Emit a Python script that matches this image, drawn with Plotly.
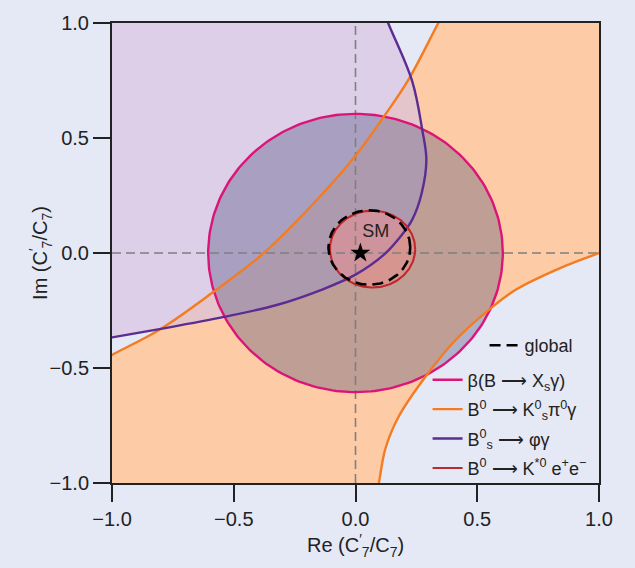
import numpy as np
import plotly.graph_objects as go

# ---------------- data ----------------
# B0 -> Ks pi0 gamma : two boundary curves of the allowed band
orange_upper_x = [-1.0, -0.80, -0.59, -0.377, -0.165, 0.0, 0.117, 0.217, 0.34]
orange_upper_y = [-0.443, -0.330, -0.174, 0.0, 0.224, 0.423, 0.594, 0.753, 1.0]
orange_lower_x = [0.096, 0.123, 0.178, 0.288, 0.412, 0.549, 0.658, 0.864, 1.0]
orange_lower_y = [-1.0, -0.85, -0.71, -0.537, -0.377, -0.246, -0.160, -0.055, 0.0]

# Bs0 -> phi gamma : boundary curve (allowed region is to the upper left)
purple_x = [-1.0, -0.80, -0.54, -0.32, -0.14, 0.0, 0.117, 0.185, 0.233, 0.272, 0.291, 0.274, 0.233, 0.134]
purple_y = [-0.367, -0.330, -0.278, -0.225, -0.160, -0.094, -0.007, 0.072, 0.145, 0.261, 0.406, 0.536, 0.746, 1.0]

# beta(B -> Xs gamma) : circle  (center x, center y, radius x, radius y)
beta_circle = [0.0, 0.0, 0.605, 0.605]
# B0 -> K*0 e+ e- : ellipse
kstar_ellipse = [0.07, 0.017, 0.175, 0.167]
# global fit contour
global_ellipse = [0.057, 0.024, 0.168, 0.162]

sm_point = [0.02, 0.0]
sm_label = [0.083, 0.087]
axis_range = [-1.0, 1.0]
tick_vals = [-1.0, -0.5, 0.0, 0.5, 1.0]
tick_text = ["\u22121.0", "\u22120.5", "0.0", "0.5", "1.0"]

ARROW = "\u27f6"
legend_names = {
    "beta": "\u03b2(B " + ARROW + " X<sub>s</sub>\u03b3)",
    "kspi": "B<sup>0</sup> " + ARROW + " K<sup>0</sup><sub>s</sub>\u03c0<sup>0</sup>\u03b3",
    "phi": "B<sup>0</sup><sub>s</sub> " + ARROW + " \u03c6\u03b3",
    "kee": "B<sup>0</sup> " + ARROW + " K<sup>*0</sup> e<sup>+</sup>e<sup>\u2212</sup>",
    "global": "global",
}

# ---------------- styling ----------------
BG = "#e5e9f5"
FONT = "Liberation Sans"
C_ORANGE = "#f47b20"
C_PURPLE = "#5b2d92"
C_PINK = "#dc1478"
C_RED = "#c0282d"
F_ORANGE = "rgb(253,203,165)"
F_PURPLE = "rgba(215,193,222,0.65)"
F_PINK = "rgba(70,70,120,0.34)"
F_RED = "rgba(240,140,140,0.5)"
FAR = 1.3   # helper distance beyond the axis range used to close fill polygons
LW = 2.4


def extended(xs, ys):
    """curve with one helper point beyond each end (outside the visible range)"""
    xs = list(xs); ys = list(ys)
    sx = [2 * xs[0] - xs[1]] + xs + [2 * xs[-1] - xs[-2]]
    sy = [2 * ys[0] - ys[1]] + ys + [2 * ys[-1] - ys[-2]]
    return sx, sy


def ellipse(c):
    t = np.linspace(0, 2 * np.pi, 241)
    return c[0] + c[2] * np.cos(t), c[1] + c[3] * np.sin(t)


ou_x, ou_y = extended(orange_upper_x, orange_upper_y)
ol_x, ol_y = extended(orange_lower_x, orange_lower_y)
pu_x, pu_y = extended(purple_x, purple_y)
bx, by = ellipse(beta_circle)
kx, ky = ellipse(kstar_ellipse)
gx, gy = ellipse(global_ellipse)

fig = go.Figure()

# ---- fills ----
band_x = ou_x + [FAR] + ol_x[::-1] + [-FAR]
band_y = ou_y + [FAR] + ol_y[::-1] + [-FAR]
fig.add_trace(go.Scatter(x=band_x, y=band_y, mode="lines", fill="toself",
                         fillcolor=F_ORANGE, line=dict(width=0, shape="spline"),
                         hoverinfo="skip", showlegend=False))
fig.add_trace(go.Scatter(x=pu_x + [-FAR], y=pu_y + [FAR], mode="lines", fill="toself",
                         fillcolor=F_PURPLE, line=dict(width=0, shape="spline"),
                         hoverinfo="skip", showlegend=False))
fig.add_trace(go.Scatter(x=bx, y=by, mode="lines", fill="toself", fillcolor=F_PINK,
                         line=dict(width=0), hoverinfo="skip", showlegend=False))
fig.add_trace(go.Scatter(x=kx, y=ky, mode="lines", fill="toself", fillcolor=F_RED,
                         line=dict(width=0), hoverinfo="skip", showlegend=False))

# ---- zero reference lines ----
ref_line = dict(color="#7f7f7f", width=1.6, dash="9px,5px")
fig.add_trace(go.Scatter(x=axis_range, y=[0, 0], mode="lines", line=ref_line,
                         hoverinfo="skip", showlegend=False))
fig.add_trace(go.Scatter(x=[0, 0], y=axis_range, mode="lines", line=ref_line,
                         hoverinfo="skip", showlegend=False))

# ---- boundary lines (legend order) ----
fig.add_trace(go.Scatter(x=bx, y=by, mode="lines", name=legend_names["beta"],
                         line=dict(color=C_PINK, width=LW), legendgroup="beta",
                         hoverinfo="skip"))
fig.add_trace(go.Scatter(x=ou_x, y=ou_y, mode="lines", name=legend_names["kspi"],
                         line=dict(color=C_ORANGE, width=LW, shape="spline"),
                         legendgroup="kspi", hoverinfo="skip"))
fig.add_trace(go.Scatter(x=ol_x, y=ol_y, mode="lines", name=legend_names["kspi"],
                         line=dict(color=C_ORANGE, width=LW, shape="spline"),
                         legendgroup="kspi", showlegend=False, hoverinfo="skip"))
fig.add_trace(go.Scatter(x=pu_x, y=pu_y, mode="lines", name=legend_names["phi"],
                         line=dict(color=C_PURPLE, width=LW, shape="spline"),
                         legendgroup="phi", hoverinfo="skip"))
fig.add_trace(go.Scatter(x=kx, y=ky, mode="lines", name=legend_names["kee"],
                         line=dict(color=C_RED, width=2.1), legendgroup="kee",
                         hoverinfo="skip"))
fig.add_trace(go.Scatter(x=gx, y=gy, mode="lines", name=legend_names["global"],
                         line=dict(color="black", width=2.6, dash="11px,6px"),
                         legend="legend2", hoverinfo="skip"))

# ---- SM point ----
fig.add_trace(go.Scatter(x=[sm_point[0]], y=[sm_point[1]], mode="markers",
                         marker=dict(symbol="star", size=15, color="black"),
                         showlegend=False, hoverinfo="skip"))
fig.add_trace(go.Scatter(x=[sm_label[0]], y=[sm_label[1]], mode="text", text=["SM"],
                         textposition="middle center",
                         textfont=dict(family=FONT, size=18, color="#222"),
                         showlegend=False, hoverinfo="skip"))

axis_common = dict(range=axis_range, tickvals=tick_vals, ticktext=tick_text,
                   showgrid=False, zeroline=False, showline=True, mirror=True,
                   linecolor="#222", linewidth=2, ticks="outside", ticklen=17,
                   tickwidth=2, tickcolor="#222",
                   tickfont=dict(family=FONT, size=20, color="#222"))

fig.update_layout(
    width=635, height=568,
    margin=dict(l=112, r=36, t=23, b=85),
    paper_bgcolor=BG, plot_bgcolor=BG,
    font=dict(family=FONT, size=18, color="#222"),
    xaxis=dict(**axis_common),
    yaxis=dict(**axis_common),
    showlegend=True,
    legend=dict(x=0.648, y=0.264, xanchor="left", yanchor="top",
                bgcolor="rgba(0,0,0,0)", font=dict(family=FONT, size=18, color="#222"),
                traceorder="grouped", tracegroupgap=3),
    legend2=dict(x=0.765, y=0.339, xanchor="left", yanchor="top",
                 bgcolor="rgba(0,0,0,0)", font=dict(family=FONT, size=18, color="#222")),
    annotations=[
        dict(text="Re (C<sup>\u2032</sup><sub>7</sub>/C<sub>7</sub>)", xref="paper", yref="paper",
             x=0.5, y=-0.135, xanchor="center", yanchor="middle", showarrow=False,
             font=dict(family=FONT, size=20, color="#222")),
        dict(text="Im (C<sup>\u2032</sup><sub>7</sub>/C<sub>7</sub>)", xref="paper", yref="paper",
             x=-0.148, y=0.5, xanchor="center", yanchor="middle", textangle=-90, showarrow=False,
             font=dict(family=FONT, size=20, color="#222")),
    ],
)

fig.write_html("out.html", config={"displayModeBar": False},
               post_script="document.body.style.margin='0px';")
